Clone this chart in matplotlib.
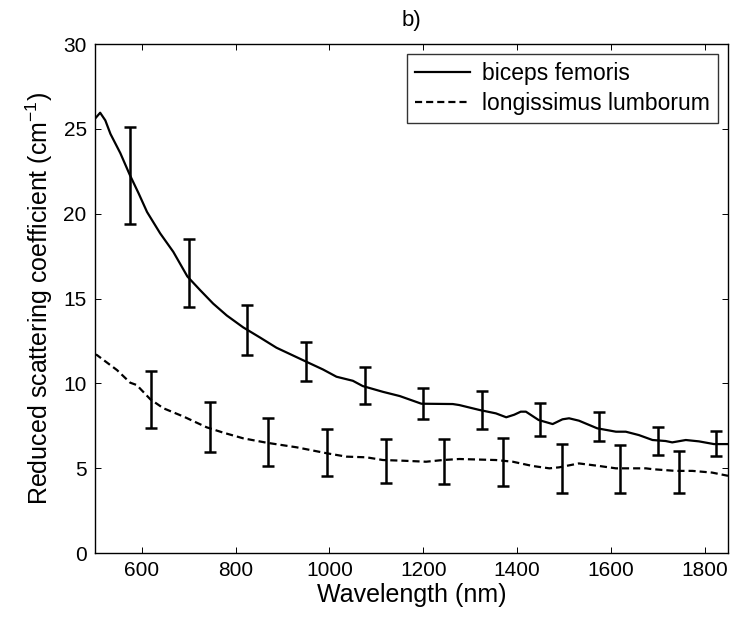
import matplotlib
matplotlib.use('Agg')
from matplotlib import pyplot as plt

plt.rcParams['font.family'] = ['Liberation Sans', 'DejaVu Sans']
plt.rcParams['mathtext.fontset'] = 'custom'
plt.rcParams['mathtext.rm'] = 'Liberation Sans'

# biceps femoris curve (wavelength nm, reduced scattering cm^-1)
bfWave = [500, 511, 522, 533, 554, 574, 593, 611, 639, 667, 697, 724, 752, 781, 816, 852,
          887, 951, 986, 1015, 1050, 1071, 1114, 1150, 1196, 1263, 1277, 1320, 1355, 1377,
          1394, 1408, 1419, 1446, 1476, 1497, 1511, 1532, 1571, 1611, 1632, 1660, 1689,
          1717, 1731, 1760, 1788, 1820, 1850]
bfValue = [25.6, 25.95, 25.5, 24.7, 23.57, 22.3, 21.2, 20.1, 18.84, 17.75, 16.3, 15.5, 14.7,
           14.0, 13.3, 12.7, 12.1, 11.27, 10.82, 10.39, 10.15, 9.84, 9.5, 9.25, 8.8, 8.78,
           8.72, 8.43, 8.23, 8.0, 8.15, 8.33, 8.33, 7.84, 7.6, 7.88, 7.94, 7.8, 7.35, 7.15,
           7.15, 6.95, 6.66, 6.6, 6.52, 6.66, 6.58, 6.42, 6.42]

# longissimus lumborum curve
llWave = [500, 504, 547, 575, 589, 618, 646, 689, 738, 774, 816, 866, 930, 994, 1036,
          1079, 1114, 1157, 1206, 1242, 1277, 1355, 1391, 1433, 1469, 1490, 1532, 1575,
          1611, 1675, 1689, 1738, 1774, 1816, 1850]
llValue = [11.7, 11.67, 10.78, 10.04, 9.9, 9.06, 8.53, 8.04, 7.41, 7.09, 6.76, 6.5, 6.23,
           5.88, 5.68, 5.64, 5.48, 5.44, 5.38, 5.48, 5.54, 5.48, 5.38, 5.13, 4.99, 5.05,
           5.28, 5.13, 4.99, 4.99, 4.94, 4.84, 4.84, 4.74, 4.55]

# error bars
bfErrWave = [575, 700, 825, 950, 1075, 1200, 1325, 1450, 1575, 1700, 1825]
bfErrMean = [22.25, 16.5, 13.15, 11.3, 9.875, 8.8, 8.425, 7.875, 7.45, 6.625, 6.45]
bfErrSize = [2.85, 2.0, 1.45, 1.15, 1.075, 0.9, 1.125, 0.975, 0.85, 0.825, 0.75]

llErrWave = [620, 745, 870, 995, 1120, 1245, 1370, 1495, 1620, 1745]
llErrMean = [9.025, 7.425, 6.525, 5.925, 5.425, 5.375, 5.375, 5.0, 4.95, 4.775]
llErrSize = [1.675, 1.475, 1.425, 1.375, 1.275, 1.325, 1.425, 1.45, 1.4, 1.225]

fig = plt.figure(figsize=(7.37, 6.21), dpi=100)
ax = fig.add_axes([0.1289, 0.1095, 0.8589, 0.8196])

ax.plot(bfWave, bfValue, 'k-', lw=1.6, label='biceps femoris')
ax.plot(llWave, llValue, 'k--', lw=1.6, dashes=(3.2, 1.8), label='longissimus lumborum')
ax.errorbar(bfErrWave, bfErrMean, yerr=bfErrSize, fmt='none', ecolor='k',
            elinewidth=1.8, capsize=4.3, capthick=1.8)
ax.errorbar(llErrWave, llErrMean, yerr=llErrSize, fmt='none', ecolor='k',
            elinewidth=1.8, capsize=4.3, capthick=1.8)

ax.set_xlim(500, 1850)
ax.set_ylim(0, 30)
ax.set_xticks([600, 800, 1000, 1200, 1400, 1600, 1800])
ax.set_yticks([0, 5, 10, 15, 20, 25, 30])
ax.tick_params(direction='in', top=True, right=True, length=4, width=0.7, labelsize=15, pad=6)
for s in ax.spines.values():
    s.set_linewidth(1.0)

ax.set_xlabel('Wavelength (nm)', fontsize=18, labelpad=2)
ax.set_ylabel('Reduced scattering coefficient (cm$^{-1}$)', fontsize=18, labelpad=6)
ax.set_title('b)', fontsize=16, pad=13)

leg = ax.legend(loc='upper right', fontsize=16.5, handlelength=2.4, frameon=True, fancybox=False,
                borderpad=0.35, labelspacing=0.3, handletextpad=0.5, borderaxespad=0.45)
leg.get_frame().set_edgecolor('k')
leg.get_frame().set_linewidth(1.0)

fig.savefig('out.png', dpi=100)
